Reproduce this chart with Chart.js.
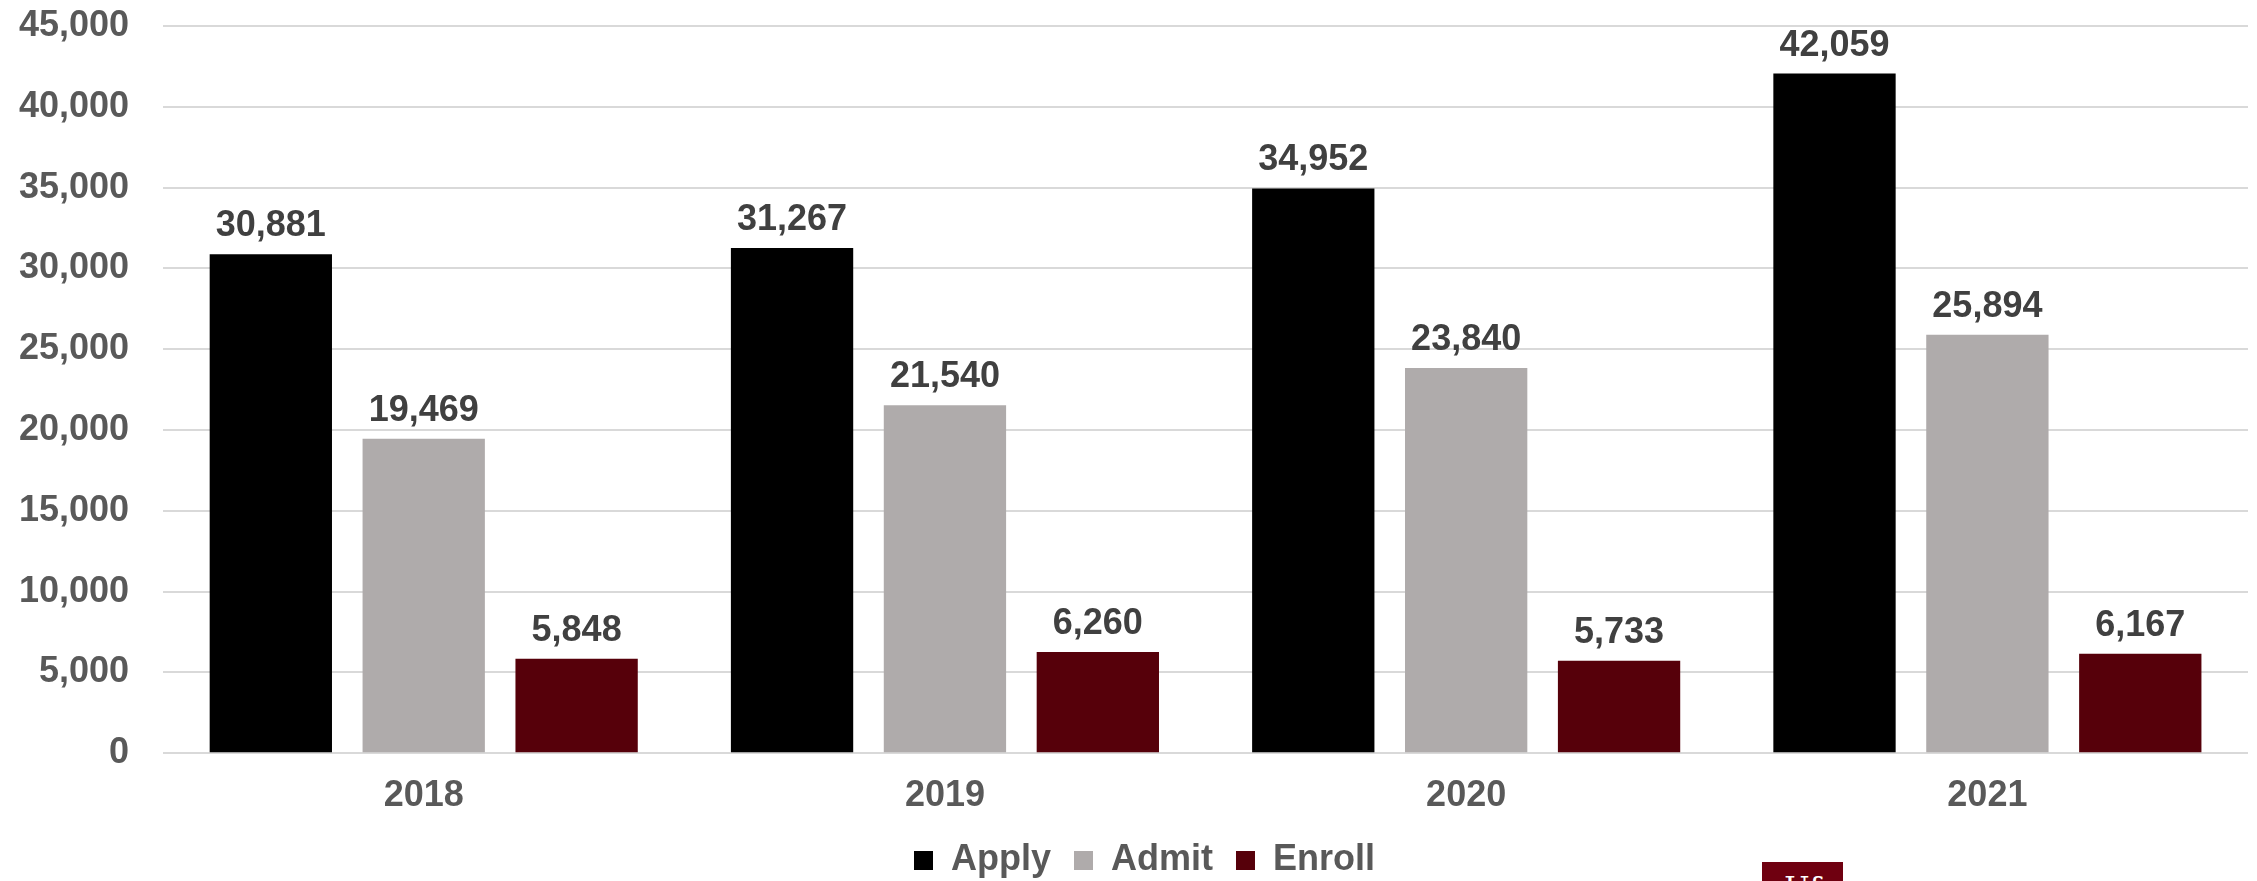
<!DOCTYPE html>
<html>
<head>
<meta charset="utf-8">
<script src="https://cdn.jsdelivr.net/npm/chart.js@4/dist/chart.umd.min.js"></script>
<style>
  html, body { margin: 0; padding: 0; background: #ffffff; overflow: hidden; }
  #wrap { position: relative; width: 2257px; height: 881px; }
  #logo { position: absolute; left: 1762px; top: 862px; width: 81px; height: 40px; background: #6f0010;
          color: #ffffff; font-family: "DejaVu Serif", "Liberation Serif", serif; font-size: 30px;
          line-height: 40px; text-align: center; padding-top: 6px; box-sizing: border-box; }
</style>
</head>
<body>
<div id="wrap">
  <canvas id="c" width="2257" height="881"></canvas>
  <div id="logo">Uf</div>
</div>
<script>
const categories = ["2018", "2019", "2020", "2021"];
const applyValues = [30881, 31267, 34952, 42059];
const admitValues = [19469, 21540, 23840, 25894];
const enrollValues = [5848, 6260, 5733, 6167];
const seriesNames = ["Apply", "Admit", "Enroll"];
const seriesColors = ["#000000", "#AFABAB", "#56000A"];
const yTicks = [0, 5000, 10000, 15000, 20000, 25000, 30000, 35000, 40000, 45000];

const fmt = v => Number(v).toLocaleString('en-US');
const FONT = "'Liberation Sans', Arial, sans-serif";

const dataLabels = {
  id: 'dataLabels',
  afterDatasetsDraw(chart) {
    const ctx = chart.ctx;
    ctx.save();
    ctx.font = "bold 36px " + FONT;
    ctx.fillStyle = "#404040";
    ctx.textAlign = "center";
    ctx.textBaseline = "alphabetic";
    chart.data.datasets.forEach((ds, i) => {
      const meta = chart.getDatasetMeta(i);
      meta.data.forEach((bar, j) => {
        ctx.fillText(fmt(ds.data[j]), bar.x, bar.y - 18);
      });
    });
    ctx.restore();
  }
};

const legendShift = {
  id: 'legendShift',
  afterLayout(chart) {
    const lg = chart.legend;
    if (!lg) return;
    lg.top -= 12; lg.bottom -= 12;
    lg.left += 28; lg.right += 28;
  }
};

new Chart(document.getElementById('c'), {
  type: 'bar',
  data: {
    labels: categories,
    datasets: [
      { label: seriesNames[0], data: applyValues, backgroundColor: seriesColors[0] },
      { label: seriesNames[1], data: admitValues, backgroundColor: seriesColors[1] },
      { label: seriesNames[2], data: enrollValues, backgroundColor: seriesColors[2] }
    ]
  },
  options: {
    responsive: false,
    animation: false,
    devicePixelRatio: 1,
    categoryPercentage: 0.88,
    barPercentage: 0.8,
    layout: { padding: { left: -15, right: 9, top: 26, bottom: -19.5 } },
    plugins: {
      tooltip: { enabled: false },
      legend: {
        position: 'bottom',
        labels: {
          boxWidth: 19, boxHeight: 19, padding: 23,
          color: '#595959',
          font: { family: FONT, size: 36, weight: 'bold' }
        }
      }
    },
    scales: {
      x: {
        grid: { display: false },
        border: { display: false },
        ticks: { color: '#595959', padding: 13.5, font: { family: FONT, size: 36, weight: 'bold' } }
      },
      y: {
        min: 0, max: 45000,
        afterBuildTicks: axis => { axis.ticks = yTicks.map(v => ({ value: v })); },
        afterFit: axis => { axis.paddingTop = 22; axis.paddingBottom = 22; },
        grid: { color: '#D9D9D9', lineWidth: 2, drawTicks: false },
        border: { display: false },
        ticks: {
          color: '#595959', padding: 34,
          font: { family: FONT, size: 36, weight: 'bold' },
          callback: v => fmt(v)
        }
      }
    }
  },
  plugins: [dataLabels, legendShift]
});
</script>
</body>
</html>
